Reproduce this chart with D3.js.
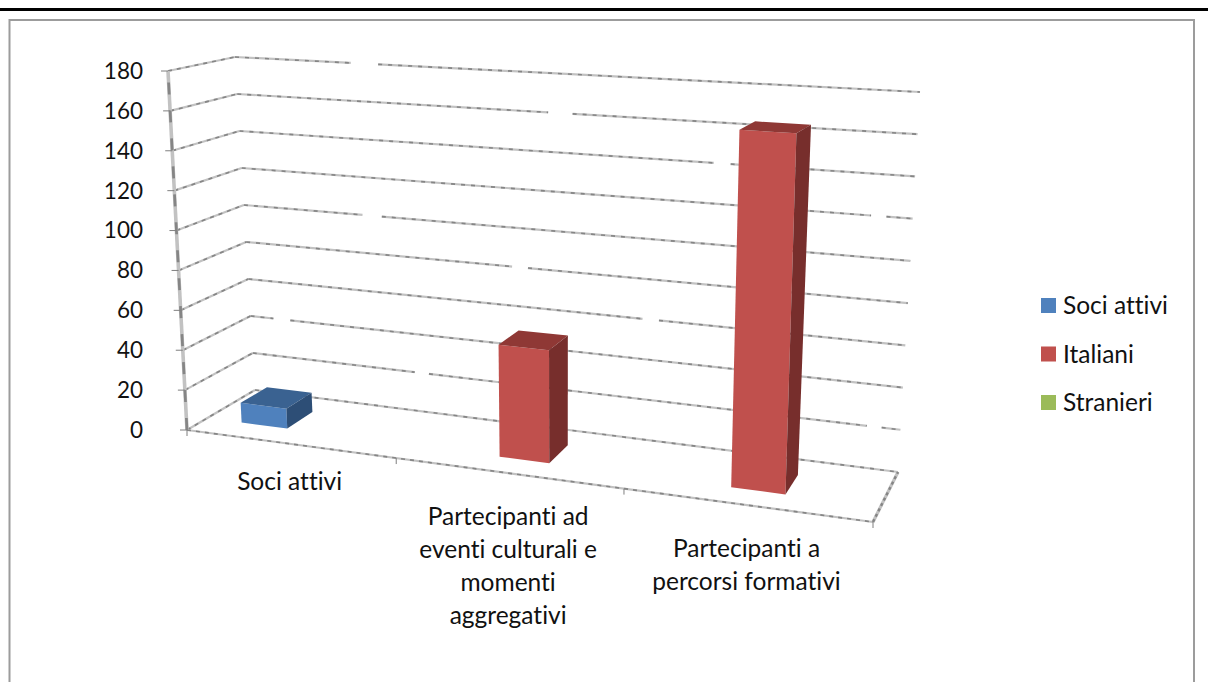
<!DOCTYPE html>
<html lang="it">
<head>
<meta charset="utf-8">
<script src="https://cdn.jsdelivr.net/npm/d3@7/dist/d3.min.js"></script>
<style>
  html, body { margin: 0; padding: 0; background: #fff; }
  svg { display: block; }
  text { font-family: Lato, "Open Sans", sans-serif; font-size: 24.5px; fill: #111; font-variant-ligatures: none; }
  .value-label { font-size: 22.5px; }
</style>
</head>
<body>
<script>
// Chart values
const categories = ["Soci attivi", "Partecipanti ad eventi culturali e momenti aggregativi", "Partecipanti a percorsi formativi"];
const categoryLines = [
  ["Soci attivi"],
  ["Partecipanti ad", "eventi culturali e", "momenti", "aggregativi"],
  ["Partecipanti a", "percorsi formativi"]
];
const seriesNames = ["Soci attivi", "Italiani", "Stranieri"];
const sociAttivi = [10, 0, 0];
const italiani = [0, 54, 165];
const stranieri = [0, 0, 0];
const seriesValues = [sociAttivi, italiani, stranieri];
const valueTicks = [0, 20, 40, 60, 80, 100, 120, 140, 160, 180];

// Face colours of each series: front, top, side
const faceColours = [
  ["#4f81bd", "#3a6291", "#2d4e76"],
  ["#c0504d", "#8f3835", "#772e2c"],
  ["#9bbb59", "#76903f", "#5f7433"]
];

// Interrupted stretches of the wall gridlines, as fractions of the wall width
const gridBreaks = new Map([
  [180, [[0.169, 0.209]]],
  [160, [[0.457, 0.493]]],
  [140, [[0.702, 0.727]]],
  [120, [[0.938, 0.961]]],
  [100, [[0.178, 0.207]]],
  [80,  [[0.402, 0.426]]],
  [60,  [[0.600, 0.625]]],
  [40,  [[0.035, 0.061]]],
  [20,  [[0.250, 0.272], [0.948, 0.971]]]
]);

const width = 1208, height = 682;
const svg = d3.select("body").append("svg").attr("width", width).attr("height", height);

// Page rule and chart frame
svg.append("rect").attr("x", 0).attr("y", 8).attr("width", width).attr("height", 3).attr("fill", "#000");
svg.append("path").attr("d", `M9.5,${height}V20H1194V${height}`)
  .attr("fill", "none").attr("stroke", "#9c9c9c").attr("stroke-width", 2);

// The box in perspective: each vertical edge maps a value to a screen position
const valueDomain = [0, 180];
const edge = (x0, x1, y0, y1) => ({
  x: d3.scaleLinear().domain(valueDomain).range([x0, x1]),
  y: d3.scaleLinear().domain(valueDomain).range([y0, y1])
});
const frontLeft = edge(187, 168, 430, 71);
const backLeft = edge(255, 235, 390, 57);
const backRight = edge(898, 920, 472, 92);
const frontRight = edge(873, 888, 522, 112);

// Category position along the floor, compressed towards the far side
const alongFloor = d3.scaleLinear().domain([0, 1, 2, 3]).range([0, 0.305, 0.637, 1]);
const depthBand = d3.scaleLinear().domain([0, 1]).range([0.3, 0.7]);

function project(pos, depth, value) {
  const u = alongFloor(pos);
  const mix = k => {
    const front = frontLeft[k](value) + u * (frontRight[k](value) - frontLeft[k](value));
    const back = backLeft[k](value) + u * (backRight[k](value) - backLeft[k](value));
    return front + depth * (back - front);
  };
  return [mix("x"), mix("y")];
}

const outer = d3.scaleBand().domain(d3.range(categories.length)).range([0, 3]).paddingInner(1 / 3).paddingOuter(1 / 6);
const inner = d3.scaleBand().domain(d3.range(seriesNames.length)).range([0, outer.bandwidth()]);

const line = d3.line();

// Two-tone stroke that gives the gridlines their mottled look
function softLine(g, points, widthPx, dash) {
  g.append("path").attr("d", line(points)).attr("fill", "none")
    .attr("stroke", "#c2c2c2").attr("stroke-width", widthPx);
  g.append("path").attr("d", line(points)).attr("fill", "none")
    .attr("stroke", "#858585").attr("stroke-width", widthPx * 0.75).attr("stroke-dasharray", dash);
}

const grid = svg.append("g");
valueTicks.forEach(v => {
  const segments = [];
  let start = 0;
  (gridBreaks.get(v) || []).forEach(([a, b]) => { segments.push([start, a]); start = b; });
  segments.push([start, 1]);
  const left = project(0, 1, v), right = project(3, 1, v);
  const at = t => [left[0] + t * (right[0] - left[0]), left[1] + t * (right[1] - left[1])];
  softLine(grid, [project(0, 0, v), left], 2.2, "4 5");
  segments.forEach(([a, b]) => softLine(grid, [at(a), at(b)], 2.2, "4 6"));
});

// Floor edges and the slanted value axis
softLine(grid, [project(0, 0, 0), project(3, 0, 0)], 2.2, "4 5");
softLine(grid, [project(3, 0, 0), project(3, 1, 0)], 3.2, "3 3");
softLine(grid, [project(0, 0, 0), project(0, 0, 180)], 3.6, "12 16");

// Tick marks on both axes
const tickStroke = "#7f7f7f";
svg.append("g").selectAll("line").data(valueTicks).join("line")
  .attr("x1", v => project(0, 0, v)[0] - 7).attr("x2", v => project(0, 0, v)[0])
  .attr("y1", v => project(0, 0, v)[1]).attr("y2", v => project(0, 0, v)[1])
  .attr("stroke", tickStroke);
svg.append("g").selectAll("line").data(d3.range(categories.length + 1)).join("line")
  .attr("x1", i => project(i, 0, 0)[0]).attr("x2", i => project(i, 0, 0)[0])
  .attr("y1", i => project(i, 0, 0)[1]).attr("y2", i => project(i, 0, 0)[1] + 6)
  .attr("stroke", tickStroke);

// Value labels
svg.append("g").selectAll("text").data(valueTicks).join("text")
  .attr("class", "value-label")
  .attr("x", 143).attr("y", v => project(0, 0, v)[1])
  .attr("dy", "0.35em").attr("text-anchor", "end")
  .text(v => v);

// Bars: front, top and side face of each non-empty value
const bars = svg.append("g");
seriesValues.forEach((values, s) => {
  values.forEach((value, c) => {
    if (!value) return;
    const a = outer(c) + inner(s), b = a + inner.bandwidth();
    const d0 = depthBand(0), d1 = depthBand(1);
    const [front, top, side] = faceColours[s];
    const face = (pts, fill) => bars.append("path").attr("d", line(pts) + "Z").attr("fill", fill);
    face([project(a, d0, 0), project(b, d0, 0), project(b, d0, value), project(a, d0, value)], front);
    face([project(a, d0, value), project(b, d0, value), project(b, d1, value), project(a, d1, value)], top);
    face([project(b, d0, 0), project(b, d1, 0), project(b, d1, value), project(b, d0, value)], side);
  });
});

// Category labels, one text per wrapped line
const catLabels = svg.append("g");
categoryLines.forEach((lines, c) => {
  const centre = outer(c) + outer.bandwidth() / 2;
  const [cx, cy] = project(centre, 0, 0);
  const drop = lines.length > 1 ? 52 : 46;
  lines.forEach((txt, i) => {
    catLabels.append("text")
      .attr("x", cx - 2).attr("y", cy + drop + i * 33)
      .attr("text-anchor", "middle").text(txt);
  });
});

// Legend
const legend = svg.append("g").selectAll("g").data(seriesNames).join("g")
  .attr("transform", (d, i) => `translate(1041,${298 + i * 48.5})`);
legend.append("rect").attr("width", 15).attr("height", 15).attr("fill", (d, i) => faceColours[i][0]);
legend.append("text").attr("x", 22).attr("y", 7.5).attr("dy", "0.35em").text(d => d);
</script>
</body>
</html>
